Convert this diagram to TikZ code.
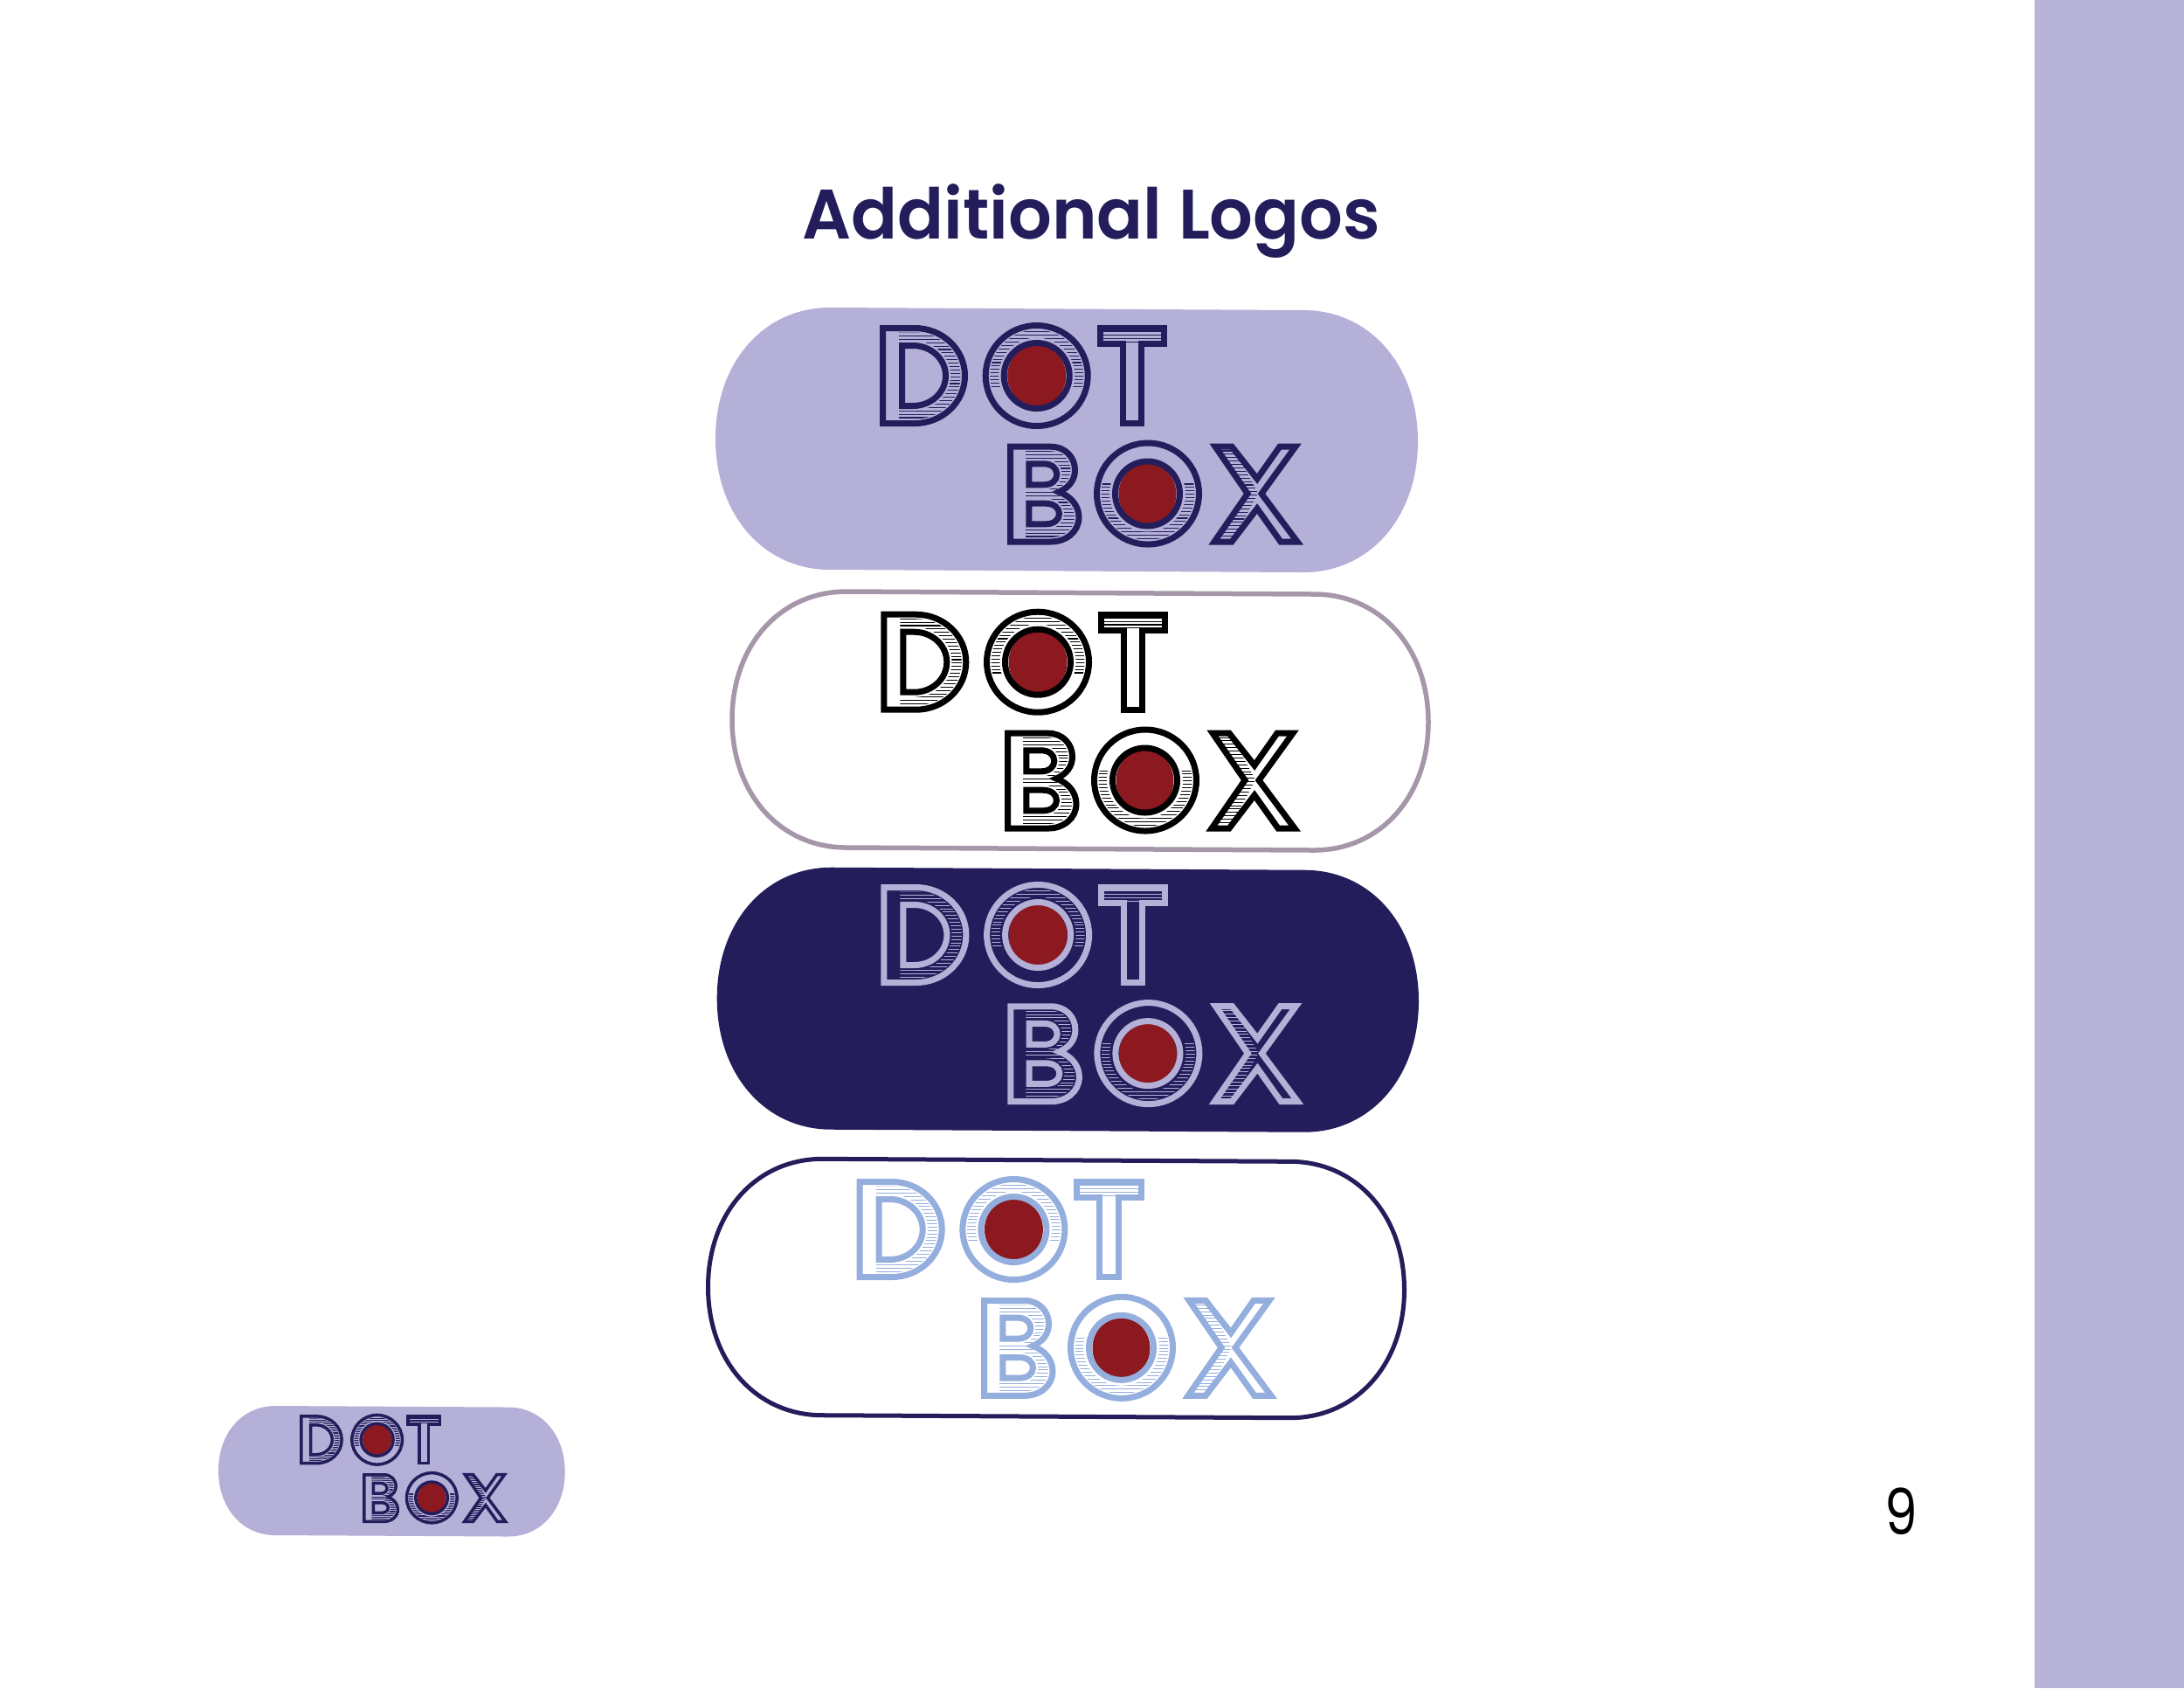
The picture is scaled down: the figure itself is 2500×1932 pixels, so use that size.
\documentclass[tikz,border=0pt]{standalone}
\usepackage{fontspec}
\setmainfont{Poppins}
\newfontfamily\titlefont{Poppins SemiBold}
\definecolor{sidelilac}{HTML}{B8B3D9}
\definecolor{pilllilac}{HTML}{B5B0D7}
\definecolor{navy}{HTML}{241D5B}
\definecolor{dotred}{HTML}{8C1820}
\definecolor{softblue}{HTML}{94AEDE}
\definecolor{mauve}{HTML}{A597A9}
\tikzset{
  glyphline/.style={line join=miter, miter limit=10},
}
% #1 L, #2 R, #3 T, #4 B, #5 skew, #6 corner rx, #7 options
\newcommand{\pillshape}[7]{%
  \pgfmathsetmacro\pA{#1+#6}\pgfmathsetmacro\pB{#2-#6}%
  \pgfmathsetmacro\pMid{(#3+#4)/2}\pgfmathsetmacro\pK{.58*(#4-#3)/2}%
  \pgfmathsetmacro\pC{.58*#6}%
  \pgfmathsetmacro\pAc{\pA-\pC}\pgfmathsetmacro\pBc{\pB+\pC}%
  \pgfmathsetmacro\pTs{#3+#5}\pgfmathsetmacro\pBs{#4+#5}\pgfmathsetmacro\pMs{\pMid+#5}%
  \pgfmathsetmacro\pMsU{\pMs-\pK}\pgfmathsetmacro\pMsD{\pMs+\pK}%
  \pgfmathsetmacro\pMU{\pMid-\pK}\pgfmathsetmacro\pMD{\pMid+\pK}%
  \path[#7] (\pA,#3) -- (\pB,\pTs) .. controls (\pBc,\pTs) and (#2,\pMsU) .. (#2,\pMs)
    .. controls (#2,\pMsD) and (\pBc,\pBs) .. (\pB,\pBs) -- (\pA,#4)
    .. controls (\pAc,#4) and (#1,\pMD) .. (#1,\pMid)
    .. controls (#1,\pMU) and (\pAc,#3) .. cycle;%
}
% hatching: #1 colour, #2 width, #3 x1, #4 x2, #5 y1, #6 number of rows-1
\newcommand{\hatchrows}[6]{%
  \foreach \hh in {0,...,#6}{%
    \pgfmathsetmacro\hy{#5+3.9*\hh}%
    \draw[#1,line width=#2] (#3,\hy) -- (#4,\hy);%
  }%
}
% #1 stroke, #2 ground, #3 stroke width, #4 hatch width
\newcommand{\dotword}[4]{%
  % D
  \begin{scope}
    \clip (1029,380.5) -- (1047,380.5) .. controls (1076,380.5) and (1099.5,402) .. (1099.5,430)
      .. controls (1099.5,458) and (1076,479.5) .. (1047,479.5) -- (1029,479.5) -- cycle;
    \hatchrows{#1}{#4}{1029}{1110}{380.5}{25}
  \end{scope}
  \draw[glyphline,draw=#2,line width=#3*1.6] (1032.5,395.5) -- (1045,395.5)
    .. controls (1066,395.5) and (1082.5,411) .. (1082.5,430)
    .. controls (1082.5,449) and (1066,464.5) .. (1045,464.5) -- (1032.5,464.5) -- cycle;
  \draw[glyphline,draw=#1,fill=#2,line width=#3] (1032.5,395.5) -- (1045,395.5)
    .. controls (1066,395.5) and (1082.5,411) .. (1082.5,430)
    .. controls (1082.5,449) and (1066,464.5) .. (1045,464.5) -- (1032.5,464.5) -- cycle;
  \draw[glyphline,draw=#1,line width=#3] (1010.5,375.5) -- (1047,375.5)
    .. controls (1079,375.5) and (1104.5,400) .. (1104.5,430)
    .. controls (1104.5,460) and (1079,484.5) .. (1047,484.5) -- (1010.5,484.5) -- cycle;
  % O
  \begin{scope}
    \clip (1186.7,430) ellipse [x radius=53.5,y radius=52.5];
    \hatchrows{#1}{#4}{1120}{1250}{376}{17}
  \end{scope}
  \fill[#2] (1186.7,430) ellipse [x radius=43.5,y radius=43.5];
  \fill[dotred] (1186.7,430) ellipse [x radius=33.5,y radius=35];
  \draw[draw=#1,line width=#3] (1186.7,430) ellipse [x radius=37.5,y radius=37.5];
  \draw[draw=#1,line width=#3] (1186.7,430) ellipse [x radius=58.5,y radius=57.5];
  % T
  \begin{scope}
    \clip (1262,378) rectangle (1329.5,391);
    \hatchrows{#1}{#4}{1255}{1336}{379.5}{3}
  \end{scope}
  \draw[glyphline,draw=#1,line width=#3] (1259,375.5) -- (1332.5,375.5) -- (1332.5,393.5) -- (1306.5,393.5)
    -- (1306.5,484.5) -- (1285.2,484.5) -- (1285.2,393.5) -- (1259,393.5) -- cycle;
}
\newcommand{\boxword}[4]{%
  % B
  \begin{scope}
    \clip (1174,516.2) -- (1203,516.2) .. controls (1216,516.2) and (1225.5,526) .. (1225.5,538)
      .. controls (1225.5,547) and (1219,556) .. (1204,563)
      .. controls (1221,570) and (1230,581) .. (1230,592)
      .. controls (1230,605) and (1218,615) .. (1203,615) -- (1174,615) -- cycle;
    \hatchrows{#1}{#4}{1174}{1240}{516.5}{26}
  \end{scope}
  \draw[glyphline,draw=#2,line width=#3*1.6] (1177.8,530.8) -- (1195,530.8)
    .. controls (1204,530.8) and (1209.8,536) .. (1209.8,542.8)
    .. controls (1209.8,549.6) and (1204,554.8) .. (1195,554.8) -- (1177.8,554.8) -- cycle;
  \draw[glyphline,draw=#2,line width=#3*1.6] (1177.8,576.2) -- (1197,576.2)
    .. controls (1206,576.2) and (1212.5,581) .. (1212.5,588)
    .. controls (1212.5,595) and (1206,599.8) .. (1197,599.8) -- (1177.8,599.8) -- cycle;
  \draw[glyphline,draw=#1,fill=#2,line width=#3] (1177.8,530.8) -- (1195,530.8)
    .. controls (1204,530.8) and (1209.8,536) .. (1209.8,542.8)
    .. controls (1209.8,549.6) and (1204,554.8) .. (1195,554.8) -- (1177.8,554.8) -- cycle;
  \draw[glyphline,draw=#1,fill=#2,line width=#3] (1177.8,576.2) -- (1197,576.2)
    .. controls (1206,576.2) and (1212.5,581) .. (1212.5,588)
    .. controls (1212.5,595) and (1206,599.8) .. (1197,599.8) -- (1177.8,599.8) -- cycle;
  \draw[glyphline,draw=#1,line width=#3] (1156.5,511.2) -- (1203,511.2) .. controls (1219,511.2) and (1230.5,523) .. (1230.5,538)
      .. controls (1230.5,549) and (1224,558) .. (1212,563)
      .. controls (1226,568) and (1235,579) .. (1235,592)
      .. controls (1235,608) and (1221,620) .. (1203,620) -- (1156.5,620) -- cycle;
  % O
  \begin{scope}
    \clip (1314,565) ellipse [x radius=53.5,y radius=53];
    \hatchrows{#1}{#4}{1250}{1380}{554}{18}
  \end{scope}
  \fill[#2] (1313.5,565) ellipse [x radius=43.5,y radius=43.5];
  \fill[dotred] (1313.5,565.5) ellipse [x radius=33,y radius=35];
  \draw[draw=#1,line width=#3] (1313.5,565) ellipse [x radius=37,y radius=37];
  \draw[draw=#1,line width=#3] (1314,565) ellipse [x radius=58.5,y radius=58];
  % X
  \begin{scope}
    \clip (1396.7,515) -- (1413.3,515) -- (1440,564.4) -- (1413.3,615) -- (1396.7,615) -- (1431,564.4) -- cycle;
    \hatchrows{#1}{#4}{1390}{1450}{516}{25}
  \end{scope}
  \draw[glyphline,draw=#1,line width=#3] (1391,511) -- (1410,511) -- (1439,548) -- (1465,511) -- (1483,511)
    -- (1444,565) -- (1485,620) -- (1466,620) -- (1439,582) -- (1410,620) -- (1390,620) -- (1428,565) -- cycle;
}
\begin{document}
\begin{tikzpicture}[x=0.01cm,y=-0.01cm]
\useasboundingbox (0,0) rectangle (2500,1932);
\fill[white] (0,0) rectangle (2500,1932);
\fill[sidelilac] (2329.3,0) rectangle (2500,1932);
\node[anchor=base,inner sep=0pt,text=navy,font=\fontsize{22.8pt}{28pt}\titlefont,xscale=0.975] (title) at (1249.3,273) {Additional Logos};
\node[anchor=base,inner sep=0pt,text=black,font=\fontsize{20.7pt}{24pt}\selectfont,xscale=0.82] (pagenum) at (2176,1756) {9};
% logo 1
\pillshape{819}{1623}{352}{652}{3}{131}{fill=pilllilac}
\dotword{navy}{pilllilac}{7*0.01cm}{1.05*0.01cm}
\boxword{navy}{pilllilac}{7*0.01cm}{1.05*0.01cm}
% logo 2
\pillshape{838}{1635}{677}{970}{3}{131}{draw=mauve,fill=white,line width=5.5*0.01cm}
\begin{scope}[shift={(1.3,327.7)}]\dotword{black}{white}{7*0.01cm}{1.05*0.01cm}\end{scope}
\begin{scope}[shift={(-3,328)}]\boxword{black}{white}{7*0.01cm}{1.05*0.01cm}\end{scope}
% logo 3
\pillshape{820.7}{1624}{992.7}{1292.7}{3}{131}{fill=navy}
\begin{scope}[shift={(1.4,640)}]\dotword{pilllilac}{navy}{7*0.01cm}{1.05*0.01cm}\end{scope}
\begin{scope}[shift={(0.4,640.6)}]\boxword{pilllilac}{navy}{7*0.01cm}{1.05*0.01cm}\end{scope}
% logo 4
\pillshape{810.5}{1607.5}{1326.3}{1619.7}{3}{131}{draw=navy,fill=white,line width=5*0.01cm}
\begin{scope}[shift={(-26.3,977)}]\dotword{softblue}{white}{7*0.01cm}{1.05*0.01cm}\end{scope}
\begin{scope}[shift={(-30,977.3)}]\boxword{softblue}{white}{7*0.01cm}{1.05*0.01cm}\end{scope}
% small logo
\pillshape{250}{646.7}{1609}{1757}{1.5}{65}{fill=pilllilac}
\begin{scope}[shift={(-152.7,1436)},scale=0.4924]
\dotword{navy}{pilllilac}{3.5*0.01cm}{0.5*0.01cm}
\boxword{navy}{pilllilac}{3.5*0.01cm}{0.5*0.01cm}
\end{scope}
\end{tikzpicture}
\end{document}
